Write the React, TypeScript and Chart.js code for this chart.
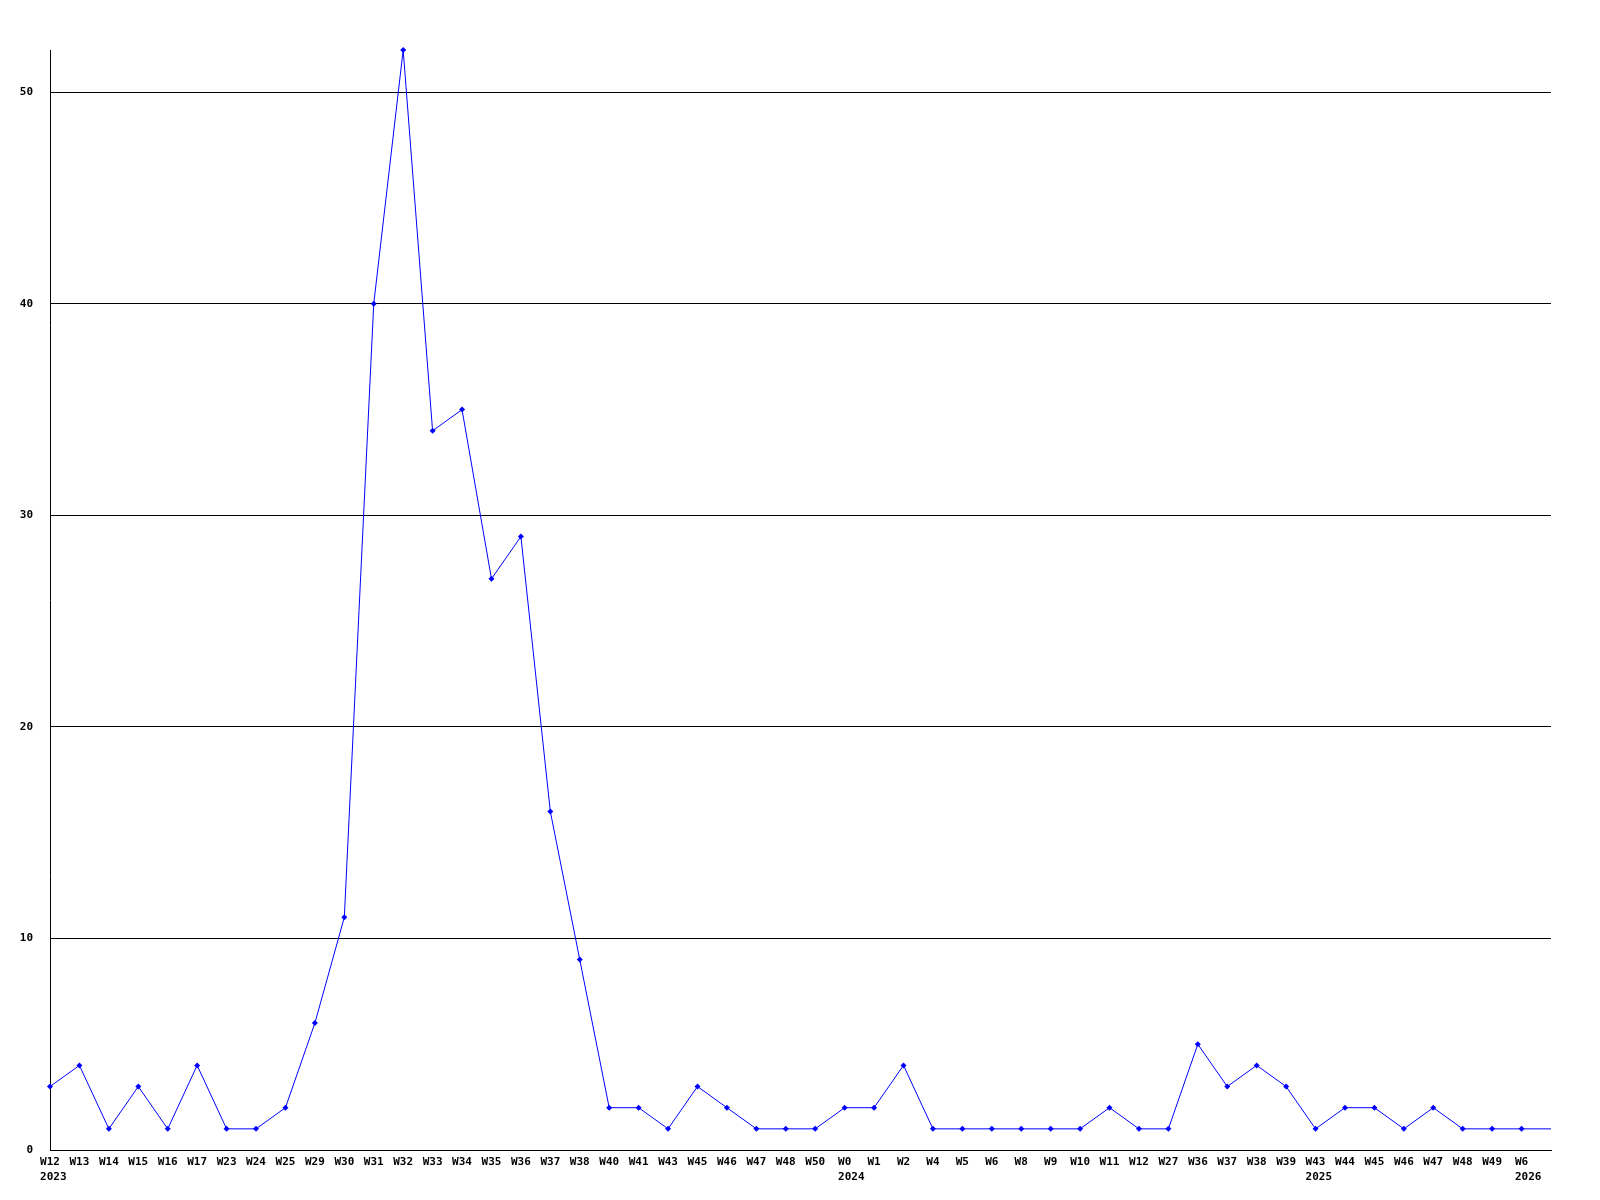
import React, { useEffect, useRef } from "react";
import { Chart, registerables } from "chart.js";

Chart.register(...registerables);

const weeks = [
  "W12", "W13", "W14", "W15", "W16", "W17", "W23", "W24", "W25", "W29", "W30", "W31", "W32",
  "W33", "W34", "W35", "W36", "W37", "W38", "W40", "W41", "W43", "W45", "W46", "W47", "W48",
  "W50", "W0", "W1", "W2", "W4", "W5", "W6", "W8", "W9", "W10", "W11", "W12", "W27", "W36",
  "W37", "W38", "W39", "W43", "W44", "W45", "W46", "W47", "W48", "W49", "W6", "",
];
const years = [
  "2023", "", "", "", "", "", "", "", "", "", "", "", "",
  "", "", "", "", "", "", "", "", "", "", "", "", "",
  "", "2024", "", "", "", "", "", "", "", "", "", "", "", "",
  "", "", "", "2025", "", "", "", "", "", "", "2026", "",
];
const counts = [
  3, 4, 1, 3, 1, 4, 1, 1, 2, 6, 11, 40, 52,
  34, 35, 27, 29, 16, 9, 2, 2, 1, 3, 2, 1, 1,
  1, 2, 2, 4, 1, 1, 1, 1, 1, 1, 2, 1, 1, 5,
  3, 4, 3, 1, 2, 2, 1, 2, 1, 1, 1, 1,
];
const yTicks = [0, 10, 20, 30, 40, 50];

const FONT_FAMILY = "'DejaVu Sans Mono', monospace";

const yearPlugin = {
  id: "yearLabels",
  afterDraw(chart: any) {
    const x = chart.scales.x;
    const ctx = chart.ctx;
    ctx.save();
    ctx.font = `bold 11px ${FONT_FAMILY}`;
    ctx.fillStyle = "#000";
    ctx.textAlign = "left";
    ctx.textBaseline = "middle";
    years.forEach((y, i) => {
      if (!y) return;
      const px = x.getPixelForValue(i);
      const w = ctx.measureText(weeks[i]).width;
      ctx.fillText(y, px - w / 2, x.bottom - 23);
    });
    ctx.restore();
  },
};

export default function App() {
  const ref = useRef<HTMLCanvasElement>(null);
  useEffect(() => {
    if (!ref.current) return;
    const font = { family: FONT_FAMILY, size: 11, weight: "bold" as const };
    const chart = new Chart(ref.current, {
      type: "line",
      data: {
        labels: weeks,
        datasets: [
          {
            data: counts,
            borderColor: "#0000ff",
            backgroundColor: "#0000ff",
            borderWidth: 1,
            pointStyle: "rectRot",
            pointRadius: counts.map((_, i) => (i === counts.length - 1 ? 0 : 3)),
            pointBorderWidth: 0,
            tension: 0,
            clip: false as any,
          },
        ],
      },
      options: {
        animation: false,
        responsive: false,
        maintainAspectRatio: false,
        layout: { padding: { left: 0, right: 49, top: 50, bottom: 0 } },
        plugins: { legend: { display: false }, tooltip: { enabled: false } },
        scales: {
          x: {
            type: "category",
            offset: false,
            grid: { display: false, drawTicks: false },
            border: { display: true, color: "#000", width: 1 },
            ticks: {
              autoSkip: false,
              maxRotation: 0,
              minRotation: 0,
              color: "#000",
              padding: 6,
              font,
            },
            afterFit: (s: any) => {
              s.height = 50;
            },
          },
          y: {
            min: 0,
            max: 52,
            grid: { color: "#000", lineWidth: 1, drawTicks: false },
            border: { display: true, color: "#000", width: 1 },
            afterBuildTicks: (s: any) => {
              s.ticks = yTicks.map((v) => ({ value: v }));
            },
            ticks: { color: "#000", padding: 17, font },
            afterFit: (s: any) => {
              s.width = 50;
            },
          },
        },
      },
      plugins: [yearPlugin],
    });
    return () => chart.destroy();
  }, []);
  return (
    <div style={{ position: "fixed", left: 0, top: 0, width: 1600, height: 1200, background: "#fff" }}>
      <canvas ref={ref} width={1600} height={1200} style={{ width: 1600, height: 1200 }} />
    </div>
  );
}
